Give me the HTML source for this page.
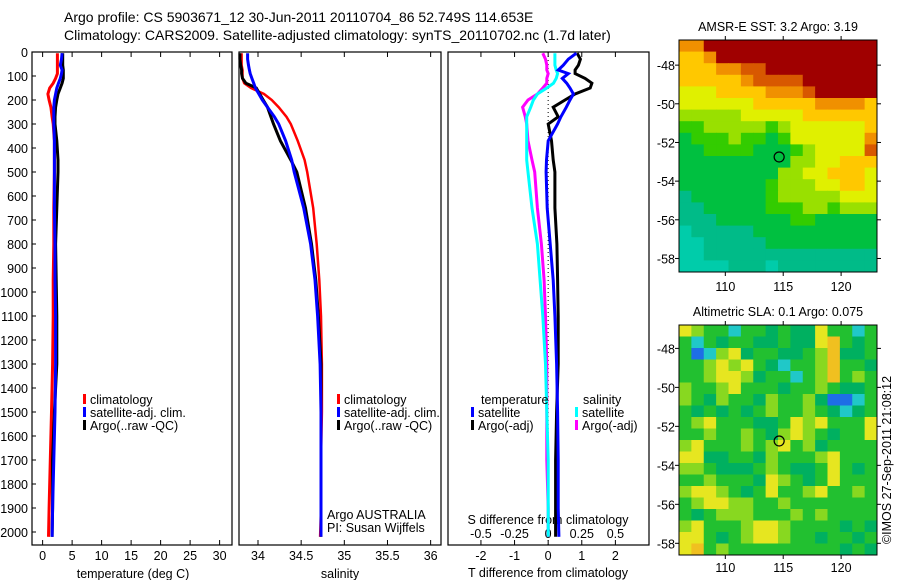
<!DOCTYPE html>
<html><head><meta charset="utf-8">
<style>
html,body{margin:0;padding:0;background:#fff;}
svg{display:block;font-family:"Liberation Sans",Arial,sans-serif;}
</style></head>
<body>
<svg id="fig" width="900" height="580" viewBox="0 0 900 580" xmlns="http://www.w3.org/2000/svg">
<g font-size="14" fill="#000">
<text x="64" y="22">Argo profile: CS 5903671_12 30-Jun-2011 20110704_86 52.749S 114.653E</text>
<text x="64" y="40">Climatology: CARS2009. Satellite-adjusted climatology: synTS_20110702.nc (1.7d later)</text>
</g>
<g id="plots"></g>
</svg>
<script>
// ---------- DATA ----------
const depths = [5,30,55,75,90,110,130,150,175,200,230,270,300,370,450,500,650,800,950,1100,1300,1500,1700,1900,2020];
const tempArgo = [3.4,3.4,3.4,3.5,3.5,3.5,3.3,3.0,2.6,2.4,2.2,2.1,2.1,2.4,2.6,2.6,2.4,2.2,2.3,2.4,2.4,2.0,1.7,1.7,1.6];
const tempClim = [2.5,2.5,2.5,2.5,2.5,2.2,1.8,1.2,0.9,1.1,1.4,1.6,1.8,2.0,2.0,2.0,1.9,1.9,1.8,1.8,1.7,1.5,1.3,1.1,1.0];
const tempSat = [3.3,3.2,3.0,3.3,3.2,3.0,2.7,2.4,2.2,2.0,1.9,1.9,1.9,2.0,2.0,2.0,2.0,2.1,2.1,2.2,2.2,2.1,1.9,1.7,1.6];
const salArgo = [33.79,33.79,33.80,33.81,33.81,33.82,33.86,33.98,34.02,34.06,34.11,34.15,34.18,34.26,34.38,34.45,34.55,34.62,34.67,34.70,34.73,34.73,34.73,34.73,34.73];
const salClim = [33.81,33.81,33.81,33.82,33.82,33.82,33.84,33.92,34.07,34.16,34.24,34.33,34.38,34.46,34.54,34.57,34.64,34.68,34.71,34.73,34.74,34.74,34.73,34.73,34.72];
const salSat = [33.88,33.88,33.89,33.90,33.91,33.93,33.95,33.97,34.01,34.05,34.11,34.19,34.24,34.32,34.39,34.42,34.53,34.61,34.66,34.69,34.72,34.73,34.73,34.73,34.73];
const dTSat = [0.84,0.6,0.45,0.3,0.6,0.42,0.55,0.65,0.75,0.65,0.54,0.38,0.28,0.0,-0.05,-0.06,-0.03,0.06,0.15,0.2,0.25,0.28,0.3,0.3,0.32];
const dTArgo = [0.86,0.96,0.9,0.8,0.8,1.1,1.3,1.25,0.8,0.5,0.15,0.3,0.0,0.1,0.15,0.2,0.2,0.26,0.28,0.3,0.3,0.25,0.22,0.22,0.22];
const dSSat = [0.05,0.05,0.05,0.06,0.07,0.06,0.04,-0.01,-0.08,-0.11,-0.13,-0.16,-0.16,-0.16,-0.16,-0.15,-0.12,-0.08,-0.06,-0.04,-0.02,-0.01,0,0,0];
const dSArgo = [-0.04,-0.02,-0.01,-0.01,0,-0.01,-0.01,-0.04,-0.08,-0.15,-0.19,-0.17,-0.16,-0.15,-0.12,-0.1,-0.08,-0.05,-0.03,-0.02,-0.01,-0.01,-0.01,0,0];
const depthTicks = [0,100,200,300,400,500,600,700,800,900,1000,1100,1200,1300,1400,1500,1600,1700,1800,1900,2000];
const tempTicks = [0,5,10,15,20,25,30];
const salTicks = [34,34.5,35,35.5,36];
const salTickLabels = ["34","34.5","35","35.5","36"];
const dTTicks = [-2,-1,0,1,2];
const dSTicks = [-0.5,-0.25,0,0.25,0.5];
const dSTickLabels = ["-0.5","-0.25","0","0.25","0.5"];
const lonTicks = [110,115,120];
const latTicks = [-48,-50,-52,-54,-56,-58];
const argoLon = 114.65, argoLat = -52.75;
const sstGrid = [
"7799999999999999","6679999999999999","6667788999999999","6666678888999999",
"5556666777899999","5555556666677776","4444455555666666","3344444345555556",
"2333433235555557","2233332223455558","2222222224455666","2222222244556665",
"2222222344455665","1222222344444555","1122222333443444","1112222223322222",
"0111112222222222","0011111222222222","0011111111111111","0000111011111111"];
const sstColors = ["#00ccaa","#00bb88","#00c040","#33cc00","#99e000","#e0f000","#ffc800","#f09000","#d85800","#a00000"];
const slaGrid = [
"5433133232253313","3132332232256323","3014523322346223","3345453213346332",
"3345542331346343","4334533323343223","4324332433420013","3232323433432123",
"3453332235453335","3343343245432335","4533343453423333","5522332433345333",
"4432223432235323","3343332543235333","4554323533453343","3455443343333333",
"3234443334343333","4533345543333232","5532345543323323","5634333333333232"];
const slaColors = ["#1e6ee6","#20c8c8","#00b060","#22c030","#88d820","#e6e620","#f0c020"];

// ---------- DRAWING ----------
const NS="http://www.w3.org/2000/svg";
const root=document.getElementById('plots');
function mk(tag,attrs,parent){const e=document.createElementNS(NS,tag);for(const k in attrs)e.setAttribute(k,attrs[k]);(parent||root).appendChild(e);return e;}
function txt(s,x,y,parent,anchor,size){const t=mk('text',{x:x,y:y,'font-size':size||12.5,'text-anchor':anchor||'start',fill:'#000'},parent);t.textContent=s;return t;}

const top0=52, bot0=545;
function yD(d){return top0+d*0.24;}

function panel(name,x0,x1,vmin,vmax){
  const g=mk('g',{});
  
  
  mk('rect',{x:x0,y:top0,width:x1-x0,height:bot0-top0,fill:'none',stroke:'#000','stroke-width':1.2},g);
  return {g:g,sx:v=>x0+(v-vmin)/(vmax-vmin)*(x1-x0),x0:x0,x1:x1};
}
function line(p,vals,color,name,w){
  const pts=depths.map((d,i)=>p.sx(vals[i]).toFixed(1)+','+yD(d).toFixed(1)).join(' ');
  const l=mk('polyline',{points:pts,fill:'none',stroke:color,'stroke-width':w||3,'stroke-linejoin':'miter'},p.g);
  
  
}
function xticks(p,ticks,labels,y,name){
  const g=mk('g',{},p.g);
  
  
  ticks.forEach((t,i)=>{const x=p.sx(t);
    mk('line',{x1:x,x2:x,y1:bot0,y2:bot0-5,stroke:'#000'},g);
    mk('line',{x1:x,x2:x,y1:top0,y2:top0+5,stroke:'#000'},g);
    if(y)txt(labels[i],x,y,g,'middle');});
}
function legend(p,x,y,items,name){
  const g=mk('g',{},p.g);
  
  
  items.forEach((it,i)=>{const yy=y+i*13;
    mk('rect',{x:x,y:yy-10,width:3,height:10,fill:it[1]},g);
    txt(it[0],x+7,yy,g);});
}

const p1=panel('temperature-panel',32,232,-1.8,32.1);
const yg=mk('g',{});
depthTicks.forEach(d=>{txt(String(d),28,yD(d)+5,yg,'end');
  mk('line',{x1:32,x2:36,y1:yD(d),y2:yD(d),stroke:'#000'},yg);});
xticks(p1,tempTicks,tempTicks.map(String),560,'temperature-x-ticks');
txt('temperature (deg C)',133,578,p1.g,'middle');
line(p1,tempClim,'#ff0000','temp-climatology-line');
line(p1,tempArgo,'#000000','temp-argo-line');
line(p1,tempSat,'#0000ff','temp-satellite-line');
legend(p1,83,404,[['climatology','#ff0000'],['satellite-adj. clim.','#0000ff'],['Argo(..raw -QC)','#000000']],'temperature-legend');

const p2=panel('salinity-panel',239,441,33.78,36.12);
xticks(p2,salTicks,salTickLabels,560,'salinity-x-ticks');
txt('salinity',340,578,p2.g,'middle');
line(p2,salClim,'#ff0000','sal-climatology-line',2.5);
line(p2,salArgo,'#000000','sal-argo-line');
line(p2,salSat,'#0000ff','sal-satellite-line');
legend(p2,337,404,[['climatology','#ff0000'],['satellite-adj. clim.','#0000ff'],['Argo(..raw -QC)','#000000']],'salinity-legend');
const ai=mk('g',{},p2.g);
txt('Argo AUSTRALIA',327,519,ai);txt('PI: Susan Wijffels',327,532,ai);

const p3=panel('difference-panel',448,649,-2.98,3.0);
const p3s={g:p3.g,sx:v=>p3.sx(v*4)};
mk('line',{x1:p3.sx(0),x2:p3.sx(0),y1:top0,y2:bot0,stroke:'#000','stroke-dasharray':'1,3'},p3.g);
xticks(p3,dTTicks,dTTicks.map(String),560,'t-difference-ticks');
const sl=mk('g',{},p3.g);
dSTicks.forEach((t,i)=>txt(dSTickLabels[i],p3s.sx(t),538,sl,'middle'));
txt('S difference from climatology',548,524,p3.g,'middle');
txt('T difference from climatology',548,577,p3.g,'middle');
line(p3s,dSArgo,'#ff00ff','s-diff-argo-line');
line(p3s,dSSat,'#00ffff','s-diff-satellite-line');
line(p3,dTArgo,'#000000','t-diff-argo-line');
line(p3,dTSat,'#0000ff','t-diff-satellite-line');
txt('temperature',481,404,p3.g);txt('salinity',583,404,p3.g);
legend(p3,471,417,[['satellite','#0000ff'],['Argo(-adj)','#000000']],'t-difference-legend');
legend(p3,575,417,[['satellite','#00ffff'],['Argo(-adj)','#ff00ff']],'s-difference-legend');

function map(name,title,grid,colors,mx0,mx1,my0,my1,lonL,lonR,latT,latB,titleY,xlabY){
  const g=mk('g',{});
  
  
  txt(title,(mx0+mx1)/2,titleY,g,'middle');
  const rows=grid.length,cols=grid[0].length,cw=(mx1-mx0)/cols,ch=(my1-my0)/rows;
  grid.forEach((r,i)=>{for(let j=0;j<cols;j++){
    mk('rect',{x:mx0+j*cw,y:my0+i*ch,width:cw+0.5,height:ch+0.5,fill:colors[+r[j]]},g);}});
  mk('rect',{x:mx0,y:my0,width:mx1-mx0,height:my1-my0,fill:'none',stroke:'#000'},g);
  const sx=v=>mx0+(v-lonL)/(lonR-lonL)*(mx1-mx0);
  const sy=v=>my0+(latT-v)/(latT-latB)*(my1-my0);
  lonTicks.forEach(t=>{const x=sx(t);mk('line',{x1:x,x2:x,y1:my1,y2:my1+4,stroke:'#000'},g);
    mk('line',{x1:x,x2:x,y1:my0,y2:my0-4,stroke:'#000'},g);txt(String(t),x,xlabY,g,'middle');});
  latTicks.forEach(t=>{const y=sy(t);mk('line',{x1:mx0,x2:mx0-4,y1:y,y2:y,stroke:'#000'},g);
    mk('line',{x1:mx1,x2:mx1+4,y1:y,y2:y,stroke:'#000'},g);txt(String(t),mx0-4,y+5,g,'end');});
  const c=mk('circle',{cx:sx(argoLon),cy:sy(argoLat),r:5,fill:'none',stroke:'#000','stroke-width':1.2},g);
  
  
}
map('sst-map','AMSR-E SST: 3.2 Argo: 3.19',sstGrid,sstColors,679,877,40,272,106.0,123.1,-46.7,-58.7,31,291);
map('sla-map','Altimetric SLA: 0.1 Argo: 0.075',slaGrid,slaColors,679,877,325,555,106.0,123.1,-46.8,-58.6,316,572);
const cr=txt('©IMOS 27-Sep-2011 21:08:12',0,0,root,'middle',12.5);
cr.setAttribute('transform','translate(891,460) rotate(-90)');


</script>
</body></html>
